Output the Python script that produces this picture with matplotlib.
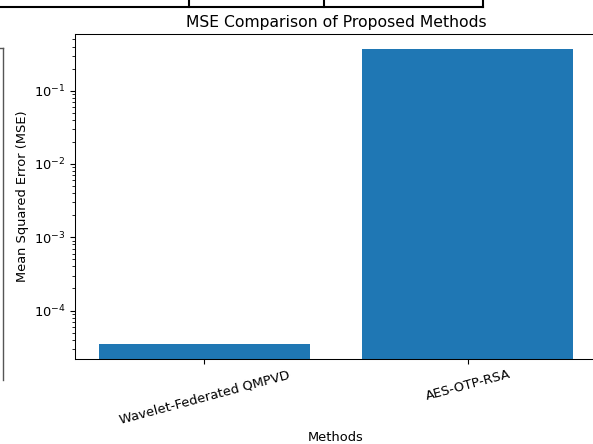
import matplotlib
matplotlib.use("Agg")
import matplotlib.pyplot as plt
from matplotlib.lines import Line2D

methods = ["Wavelet-Federated QMPVD", "AES-OTP-RSA"]
mse_values = [3.5e-5, 0.368]

s = 0.94
plt.rcParams.update({
    "font.size": 10 * s,
    "axes.titlesize": 12 * s,
    "axes.labelsize": 10 * s,
    "xtick.labelsize": 10 * s,
    "ytick.labelsize": 10 * s,
    "axes.linewidth": 0.8 * s,
    "xtick.major.size": 3.5 * s,
    "ytick.major.size": 3.5 * s,
    "ytick.minor.size": 2 * s,
    "axes.titlepad": 6 * s,
    "axes.labelpad": 4 * s,
})

W, H = 593, 444
fig = plt.figure(figsize=(W / 100, H / 100), dpi=100)
ax = fig.add_axes([75 / W, (H - 358.7) / H, (597 - 75) / W, 324.2 / H])

ax.bar(methods, mse_values, color="#1f77b4")
ax.set_yscale("log")
ax.set_title("MSE Comparison of Proposed Methods")
ax.set_xlabel("Methods")
ax.set_ylabel("Mean Squared Error (MSE)")
plt.setp(ax.get_xticklabels(), rotation=15)

# screenshot artifacts (borders of surrounding document)
def px_line(x0, y0, x1, y1, lw=1.5, color="black"):
    fig.add_artist(Line2D([x0 / W, x1 / W], [1 - y0 / H, 1 - y1 / H],
                          transform=fig.transFigure, color=color, lw=lw))

px_line(0, 7, 483, 7)
for x in (189, 324, 483):
    px_line(x, 0, x, 7)
px_line(3.3, 48, 3.3, 380, lw=1.0, color="#555555")
px_line(0, 48, 3.3, 48, lw=1.0, color="#555555")

fig.savefig("out.png", dpi=100)
